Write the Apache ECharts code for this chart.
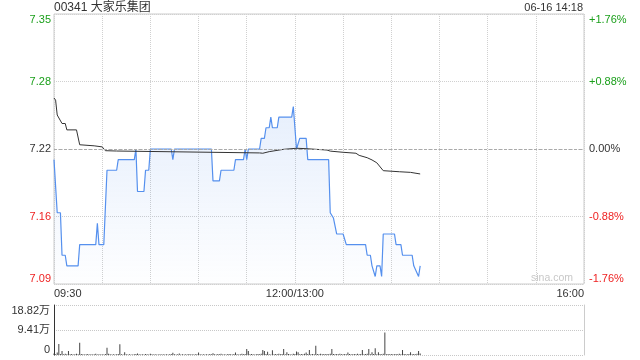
<!DOCTYPE html>
<html><head><meta charset="utf-8">
<script src="https://cdn.jsdelivr.net/npm/echarts@6/dist/echarts.min.js"></script>
<style>html,body{margin:0;padding:0;background:#fff}#c{width:640px;height:360px}</style>
</head><body><div id="c"></div>
<script>
const PREV_CLOSE = 7.22;
const TITLE = '00341 大家乐集团';
const STAMP = '06-16 14:18';
const WATERMARK = 'sina.com';
const X_TICK_LABELS = {0: '09:30', 150: '12:00/13:00', 330: '16:00'};
const PCT_RANGE = 1.76;
const PCT_STEP = 0.88;
const VOL_MAX = 18.82;
const VOL_STEP = 9.41;

// minute index (0 = 09:30, 150 = 12:00/13:00, 330 = 16:00)
const priceMinutes = [0,2,4,5,7,8,15,16,26,27,28,31,33,39,40,50,51,52,56,57,59,60,73,74,75,98,99,103,104,112,113,118,119,120,121,128,129,131,132,134,135,136,139,140,148,149,151,152,153,157,158,171,172,174,176,180,182,194,195,197,198,199,200,201,203,204,205,212,213,216,217,223,224,225,227,228];
const priceValues = [7.21,7.16,7.16,7.12,7.12,7.11,7.11,7.13,7.13,7.15,7.13,7.13,7.20,7.20,7.21,7.21,7.22,7.18,7.18,7.20,7.20,7.22,7.22,7.21,7.22,7.22,7.19,7.19,7.20,7.20,7.21,7.21,7.22,7.21,7.22,7.22,7.23,7.23,7.24,7.24,7.25,7.24,7.24,7.25,7.25,7.26,7.22,7.22,7.23,7.23,7.21,7.21,7.16,7.155,7.14,7.14,7.13,7.13,7.12,7.12,7.11,7.11,7.10,7.11,7.11,7.10,7.14,7.14,7.13,7.13,7.12,7.12,7.11,7.11,7.10,7.11];

const avgMinutes = [0,1,2,3,5,7,8,14,16,25,30,32,39,40,128,130,134,143,151,157,170,172,180,188,190,195,198,201,205,215,222,228];
const avgValues = [7.268,7.266,7.252,7.251,7.244,7.244,7.238,7.238,7.224,7.223,7.222,7.2184,7.2181,7.2165,7.2163,7.216,7.2175,7.2197,7.2207,7.2203,7.219,7.218,7.2169,7.216,7.214,7.2118,7.2097,7.207,7.1996,7.1986,7.198,7.1965];

// volume (万) for minutes 0..228
const volumeValues = [
0.6,0.3,0.9,4.1,0.4,1.5,0.3,0.5,0.3,1.5,
0.3,0.4,0.2,0.3,0.5,0.3,4.6,0.4,0.3,0.2,
0.3,0.4,0.2,0.3,0.2,0.3,0.5,0.2,0.3,0.2,
0.3,0.2,0.4,2.7,0.5,0.3,0.2,0.3,0.2,0.3,
0.4,4.0,0.3,0.2,1.0,0.3,0.2,0.3,0.2,0.2,
0.3,0.4,0.6,0.3,0.2,0.3,0.2,0.4,0.3,0.2,
0.5,0.3,0.2,0.3,0.2,0.2,0.3,0.2,0.3,0.2,
0.3,0.2,0.3,0.4,0.8,0.3,0.2,0.3,0.6,0.2,
0.3,0.2,0.3,0.2,0.4,0.2,0.3,0.2,0.3,0.3,
0.9,0.3,0.2,0.3,0.2,0.3,0.2,0.4,0.3,0.7,
0.3,0.2,0.4,0.3,0.5,0.2,0.3,0.2,0.3,0.4,
0.3,0.2,0.4,0.9,0.3,0.2,0.3,0.5,0.3,0.4,
2.3,1.5,0.3,0.4,0.3,0.2,0.3,0.4,0.3,0.5,
1.9,1.5,0.4,1.2,0.3,0.2,1.8,0.3,0.4,0.3,
0.5,0.3,0.4,2.3,0.3,1.0,0.4,0.3,0.2,0.5,
0.4,1.3,1.0,0.3,0.4,0.3,0.5,0.9,0.4,1.9,
0.3,0.4,0.3,3.5,0.4,0.3,0.5,0.3,0.4,0.3,
0.4,0.3,0.5,2.3,0.4,0.3,0.4,0.3,0.5,0.3,
0.3,0.4,0.3,0.9,0.4,0.3,0.3,0.4,0.3,0.5,
0.3,0.4,1.9,0.3,0.4,0.5,2.3,0.3,1.0,0.4,
2.5,0.3,1.0,0.4,0.3,0.5,8.5,0.3,0.4,0.3,
0.4,0.3,0.3,0.4,0.3,0.5,0.3,1.9,0.4,0.3,
0.3,0.4,1.0,0.3,0.4,0.3,0.5,1.5,0.6
];

const FONT = 'Arial, "Liberation Sans", "Noto Sans CJK SC", sans-serif';
const GREEN = '#1a9f1a', RED = '#ee2222', TEXT = '#333';
const toPct = p => (p / PREV_CLOSE - 1) * 100;
const signColor = v => { v = parseFloat(v); return Math.abs(v) < 1e-9 ? TEXT : (v > 0 ? GREEN : RED); };

const priceData = priceMinutes.map((m, i) => [m, toPct(priceValues[i])]);
const avgData = avgMinutes.map((m, i) => [m, toPct(avgValues[i])]);
const volData = volumeValues.map((v, i) => [i, v]);

const chart = echarts.init(document.getElementById('c'), null, {renderer: 'canvas'});
chart.setOption({
  animation: false,
  textStyle: {fontFamily: FONT},
  grid: [
    {left: 54, top: 14, width: 530, height: 270, show: true, borderColor: '#ccc', borderWidth: 1},
    {left: 54, top: 305, width: 530, height: 50}
  ],
  xAxis: [
    {gridIndex: 0, type: 'value', min: 0, max: 330, interval: 30,
     axisLine: {show: false}, axisTick: {show: false},
     splitLine: {show: true, lineStyle: {color: '#d0d0d0', type: 'dotted'}},
     axisLabel: {margin: 4, color: TEXT, fontSize: 11, fontFamily: FONT,
       formatter: v => X_TICK_LABELS[v] || '', alignMinLabel: 'left', alignMaxLabel: 'right'}},
    {gridIndex: 1, type: 'value', min: 0, max: 330, show: false}
  ],
  yAxis: [
    {gridIndex: 0, type: 'value', min: -PCT_RANGE, max: PCT_RANGE, interval: PCT_STEP, position: 'left',
     axisLine: {show: false}, axisTick: {show: false},
     splitLine: {show: true, lineStyle: {color: '#d0d0d0', type: 'dotted'}},
     axisLabel: {margin: 3, fontSize: 11, fontFamily: FONT, color: signColor,
       formatter: v => (PREV_CLOSE * (1 + v / 100)).toFixed(2),
       verticalAlignMaxLabel: 'top', verticalAlignMinLabel: 'bottom'}},
    {gridIndex: 0, type: 'value', min: -PCT_RANGE, max: PCT_RANGE, interval: PCT_STEP, position: 'right',
     axisLine: {show: false}, axisTick: {show: false}, splitLine: {show: false},
     axisLabel: {margin: 5, fontSize: 11, fontFamily: FONT, color: signColor,
       formatter: v => Math.abs(v) < 1e-9 ? '0.00%' : (v > 0 ? '+' : '') + v.toFixed(2) + '%',
       verticalAlignMaxLabel: 'top', verticalAlignMinLabel: 'bottom'}},
    {gridIndex: 1, type: 'value', min: 0, max: VOL_MAX, interval: VOL_STEP, position: 'left',
     axisLine: {show: true, lineStyle: {color: '#333'}}, axisTick: {show: false},
     splitLine: {show: true, lineStyle: {color: '#c8c8c8', type: 'dotted'}},
     axisLabel: {margin: 4, fontSize: 11, fontFamily: FONT, color: TEXT,
       formatter: v => v === 0 ? '0' : v.toFixed(2) + '万',
       verticalAlignMaxLabel: 'top', verticalAlignMinLabel: 'bottom'}},
    {gridIndex: 1, type: 'value', min: 0, max: VOL_MAX, position: 'right',
     axisLine: {show: true, lineStyle: {color: '#ccc'}}, axisTick: {show: false},
     axisLabel: {show: false}, splitLine: {show: false}}
  ],
  series: [
    {type: 'line', xAxisIndex: 0, yAxisIndex: 0, data: priceData, symbol: 'none', z: 3,
     lineStyle: {color: '#5590ee', width: 1.2},
     areaStyle: {origin: 'start', color: new echarts.graphic.LinearGradient(0, 0, 0, 1, [
       {offset: 0, color: 'rgba(80,140,235,0.20)'}, {offset: 1, color: 'rgba(80,140,235,0.01)'}])}},
    {type: 'line', xAxisIndex: 0, yAxisIndex: 0, data: avgData, symbol: 'none', z: 4,
     lineStyle: {color: '#333', width: 1},
     markLine: {silent: true, symbol: 'none', label: {show: false},
       lineStyle: {color: '#aaa', type: [3, 2], width: 1}, data: [{yAxis: 0}]}},
    {type: 'bar', xAxisIndex: 1, yAxisIndex: 2, data: volData, barWidth: 1,
     itemStyle: {color: '#444'}}
  ],
  graphic: [
    {type: 'text', left: 54, top: 2, style: {text: TITLE, fill: TEXT, font: '12px ' + FONT}},
    {type: 'text', right: 57, top: 2, style: {text: STAMP, fill: TEXT, font: '11px ' + FONT}},
    {type: 'text', right: 67, top: 273, z: 1, style: {text: WATERMARK, fill: '#c8c8c8', font: '10.5px ' + FONT}}
  ]
});
</script>
</body></html>
